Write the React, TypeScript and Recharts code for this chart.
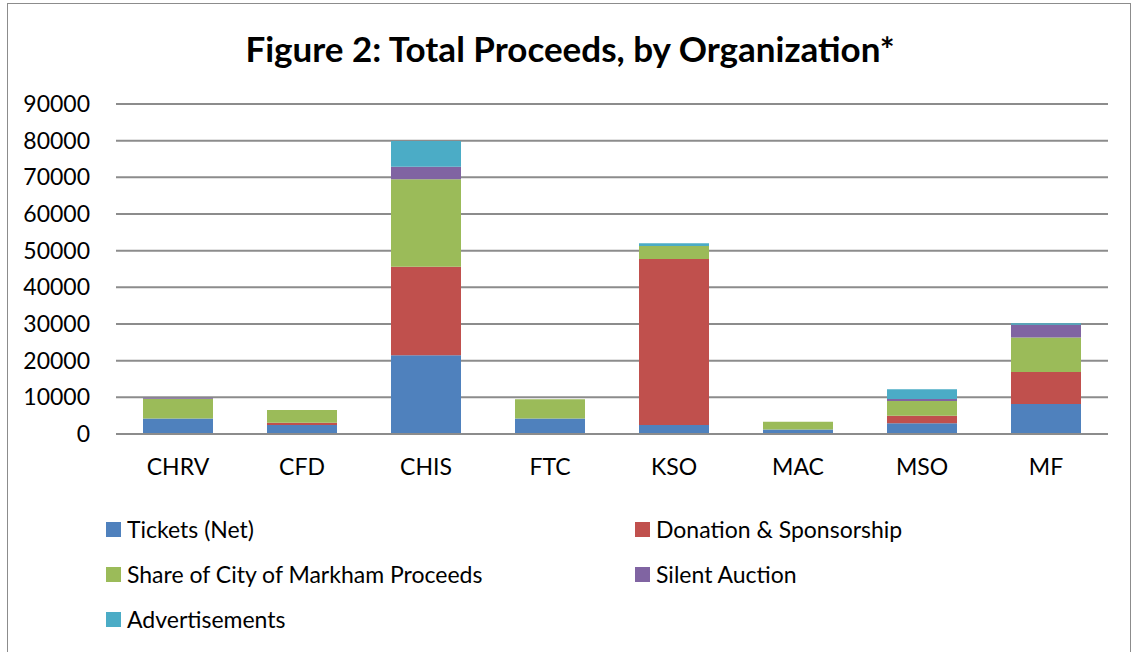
import React from 'react';
import { BarChart, Bar, XAxis, YAxis, CartesianGrid } from 'recharts';

// values (approximate)
const organizations = ['CHRV', 'CFD', 'CHIS', 'FTC', 'KSO', 'MAC', 'MSO', 'MF'];
const tickets = [4200, 2450, 21500, 4200, 2450, 1200, 2900, 8200];
const donations = [0, 650, 24100, 0, 45250, 0, 2100, 8700];
const cityShare = [5400, 3450, 23900, 5250, 3600, 2150, 4000, 9400];
const silentAuction = [300, 0, 3400, 0, 0, 0, 550, 3500];
const advertisements = [0, 0, 7000, 0, 700, 0, 2650, 400];
const yTicks = [0, 10000, 20000, 30000, 40000, 50000, 60000, 70000, 80000, 90000];

const series = [
  { key: 'tickets', name: 'Tickets (Net)', color: '#4F81BD' },
  { key: 'donations', name: 'Donation & Sponsorship', color: '#C0504D' },
  { key: 'cityShare', name: 'Share of City of Markham Proceeds', color: '#9BBB59' },
  { key: 'silentAuction', name: 'Silent Auction', color: '#8064A2' },
  { key: 'advertisements', name: 'Advertisements', color: '#4BACC6' },
];

const data = organizations.map((org, i) => ({
  org,
  tickets: tickets[i],
  donations: donations[i],
  cityShare: cityShare[i],
  silentAuction: silentAuction[i],
  advertisements: advertisements[i],
}));

const FONT = 'Lato, "Liberation Sans", sans-serif';

const LegendItem: React.FC<{ name: string; color: string; left: number; top: number }> = ({
  name,
  color,
  left,
  top,
}) => (
  <div
    style={{
      position: 'absolute',
      left,
      top,
      display: 'flex',
      alignItems: 'center',
      fontSize: 23,
      color: '#000',
      whiteSpace: 'nowrap',
      height: 30,
    }}
  >
    <span style={{ width: 15, height: 15, background: color, marginRight: 6, display: 'inline-block' }} />
    {name}
  </div>
);

export default function App() {
  const legendPos = [
    { left: 106, top: 514 },
    { left: 635, top: 514 },
    { left: 106, top: 559 },
    { left: 635, top: 559 },
    { left: 106, top: 604 },
  ];

  return (
    <div
      style={{
        position: 'absolute',
        left: 0,
        top: 0,
        width: 1132,
        height: 652,
        overflow: 'hidden',
        background: '#fff',
        fontFamily: FONT,
      }}
    >
      <div
        style={{
          position: 'absolute',
          left: 7,
          top: 3,
          width: 1122,
          height: 700,
          border: '1px solid #8c8c8c',
        }}
      />
      <div
        style={{
          position: 'absolute',
          left: 0,
          width: 1140,
          top: 27,
          textAlign: 'center',
          fontSize: 35,
          fontWeight: 'bold',
          color: '#000',
        }}
      >
        Figure 2: Total Proceeds, by Organization*
      </div>
      <div style={{ position: 'absolute', left: 0, top: 0 }}>
        <BarChart
          width={1132}
          height={490}
          data={data}
          margin={{ top: 104, right: 24, bottom: 0, left: 36 }}
        >
          <CartesianGrid vertical={false} stroke="#8c8c8c" strokeWidth={2} />
          <XAxis
            dataKey="org"
            axisLine={{ stroke: '#8c8c8c', strokeWidth: 2 }}
            tickLine={false}
            tickMargin={19}
            height={56}
            interval={0}
            tick={{ fill: '#000', fontSize: 23, fontFamily: FONT }}
          />
          <YAxis
            width={80}
            domain={[0, 90000]}
            ticks={yTicks}
            axisLine={false}
            tickLine={false}
            tickMargin={20}
            tick={{ fill: '#000', fontSize: 23, fontFamily: FONT }}
          />
          {series.map((s) => (
            <Bar
              key={s.key}
              dataKey={s.key}
              name={s.name}
              stackId="a"
              fill={s.color}
              barSize={70}
              isAnimationActive={false}
            />
          ))}
        </BarChart>
      </div>
      {series.map((s, i) => (
        <LegendItem key={s.key} name={s.name} color={s.color} left={legendPos[i].left} top={legendPos[i].top} />
      ))}
    </div>
  );
}
